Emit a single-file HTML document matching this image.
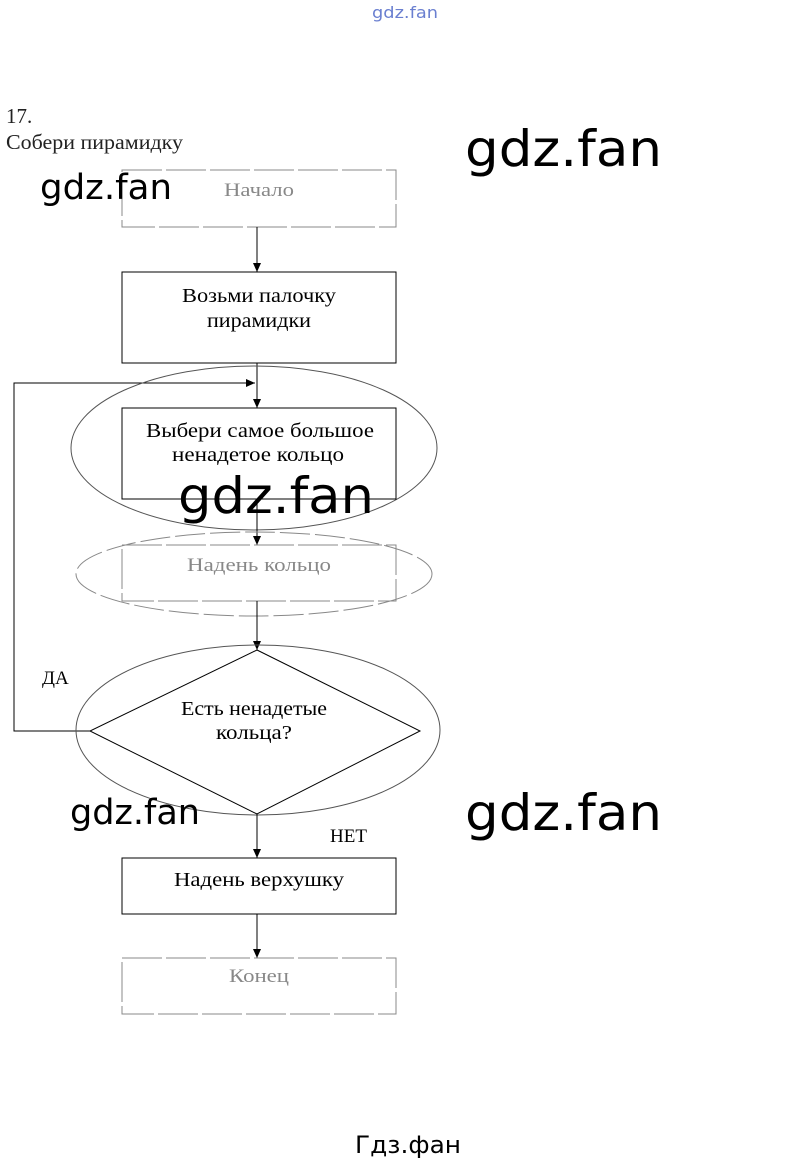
<!DOCTYPE html>
<html><head><meta charset="utf-8"><style>
html,body{margin:0;padding:0;background:#fff;}
svg{display:block}
.s{font-family:"Liberation Serif","Noto Serif CJK SC",serif;}
.w{font-family:"DejaVu Sans","Liberation Sans",sans-serif;}
</style></head><body>
<svg width="811" height="1164" viewBox="0 0 811 1164" xmlns="http://www.w3.org/2000/svg">
<defs><marker id="a" markerWidth="10" markerHeight="10" refX="9" refY="5" orient="auto" markerUnits="userSpaceOnUse"><path d="M0,1 L9,5 L0,9 z" fill="#000"/></marker></defs>
<text x="372" y="18" class="w" font-size="16" fill="#6a7fd0" textLength="66" lengthAdjust="spacingAndGlyphs">gdz.fan</text>
<text x="6" y="123" class="s" font-size="21" fill="#222">17.</text>
<text x="6" y="149" class="s" font-size="21" fill="#222" textLength="177" lengthAdjust="spacingAndGlyphs">Собери пирамидку</text>

<rect x="122" y="170" width="274" height="57" fill="none" stroke="#888" stroke-dasharray="40 4"/>
<text x="224" y="196" class="s" font-size="19" fill="#888" textLength="70" lengthAdjust="spacingAndGlyphs">Начало</text>
<line x1="257" y1="227" x2="257" y2="272" stroke="#000" marker-end="url(#a)"/>

<rect x="122" y="272" width="274" height="91" fill="none" stroke="#000"/>
<text x="182" y="302" class="s" font-size="20" textLength="154" lengthAdjust="spacingAndGlyphs">Возьми палочку</text>
<text x="207" y="327" class="s" font-size="20" textLength="104" lengthAdjust="spacingAndGlyphs">пирамидки</text>

<line x1="257" y1="363" x2="257" y2="408" stroke="#000" marker-end="url(#a)"/>
<polyline points="90,731 14,731 14,383 255,383" fill="none" stroke="#000" marker-end="url(#a)"/>

<ellipse cx="254" cy="448" rx="183" ry="82" fill="none" stroke="#555"/>
<rect x="122" y="408" width="274" height="91" fill="none" stroke="#000"/>
<text x="146" y="437" class="s" font-size="20" textLength="228" lengthAdjust="spacingAndGlyphs">Выбери самое большое</text>
<text x="172" y="461" class="s" font-size="20" textLength="172" lengthAdjust="spacingAndGlyphs">ненадетое кольцо</text>

<line x1="257" y1="499" x2="257" y2="545" stroke="#000" marker-end="url(#a)"/>
<ellipse cx="254" cy="574" rx="178" ry="42" fill="none" stroke="#888" stroke-dasharray="30 5"/>
<rect x="122" y="545" width="274" height="56" fill="none" stroke="#888" stroke-dasharray="40 4"/>
<text x="187" y="571" class="s" font-size="19" fill="#888" textLength="144" lengthAdjust="spacingAndGlyphs">Надень кольцо</text>
<line x1="257" y1="601" x2="257" y2="650" stroke="#000" marker-end="url(#a)"/>

<ellipse cx="258" cy="730" rx="182" ry="85" fill="none" stroke="#555"/>
<polygon points="257,650 420,731 257,814 90,731" fill="none" stroke="#000"/>
<text x="181" y="715" class="s" font-size="20" textLength="146" lengthAdjust="spacingAndGlyphs">Есть ненадетые</text>
<text x="216" y="739" class="s" font-size="20" textLength="76" lengthAdjust="spacingAndGlyphs">кольца?</text>
<text x="42" y="684" class="s" font-size="19">ДА</text>
<line x1="257" y1="814" x2="257" y2="858" stroke="#000" marker-end="url(#a)"/>
<text x="330" y="842" class="s" font-size="19">НЕТ</text>

<rect x="122" y="858" width="274" height="56" fill="none" stroke="#000"/>
<text x="174" y="886" class="s" font-size="20" textLength="170" lengthAdjust="spacingAndGlyphs">Надень верхушку</text>
<line x1="257" y1="914" x2="257" y2="958" stroke="#000" marker-end="url(#a)"/>
<rect x="122" y="958" width="274" height="56" fill="none" stroke="#888" stroke-dasharray="40 4"/>
<text x="229" y="982" class="s" font-size="19" fill="#888" textLength="60" lengthAdjust="spacingAndGlyphs">Конец</text>

<text x="465" y="166" class="w" font-size="50" textLength="197" lengthAdjust="spacingAndGlyphs">gdz.fan</text>
<text x="40" y="199" class="w" font-size="35" textLength="132" lengthAdjust="spacingAndGlyphs">gdz.fan</text>
<text x="178" y="513" class="w" font-size="50" textLength="196" lengthAdjust="spacingAndGlyphs">gdz.fan</text>
<text x="70" y="824" class="w" font-size="35" textLength="130" lengthAdjust="spacingAndGlyphs">gdz.fan</text>
<text x="465" y="830" class="w" font-size="50" textLength="197" lengthAdjust="spacingAndGlyphs">gdz.fan</text>
<text x="355" y="1153" class="w" font-size="24" textLength="106" lengthAdjust="spacingAndGlyphs">Гдз.фан</text>
</svg>
</body></html>
